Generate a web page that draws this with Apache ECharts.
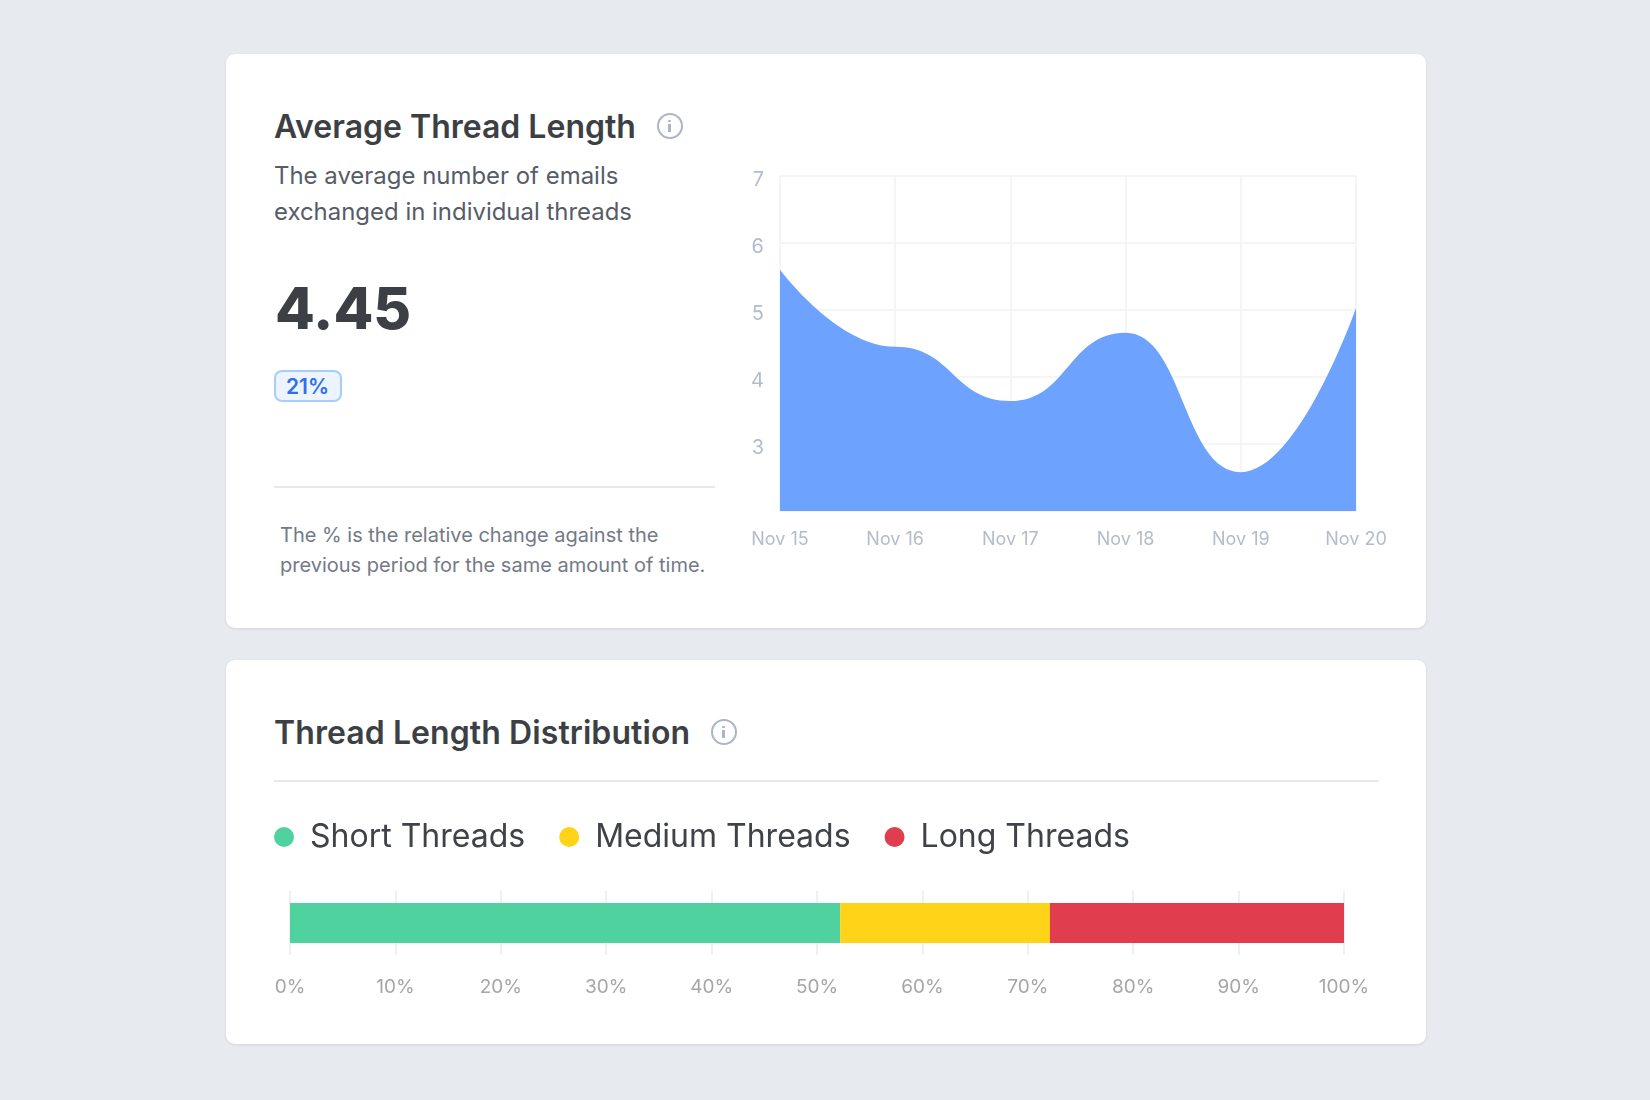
<!DOCTYPE html>
<html><head><meta charset="utf-8">
<script src="https://cdn.jsdelivr.net/npm/echarts@6/dist/echarts.min.js"></script>
<style>
html,body{margin:0;padding:0;width:1650px;height:1100px;background:#e7eaef;overflow:hidden;font-family:Inter,sans-serif}
.card{position:absolute;left:226px;width:1200px;background:#fff;border-radius:9px;box-shadow:0 1px 3px rgba(40,50,70,.1)}
.t{position:absolute;white-space:nowrap;line-height:1}
.title{font-size:32px;font-weight:600;color:#3c3f44;left:274px}
.line{position:absolute;height:2px;background:#e6e8eb}
.info{position:absolute;width:22px;height:22px;border:2.5px solid #aab5c6;border-radius:50%}
.info:before{content:"";position:absolute;left:9.75px;top:5px;width:2.5px;height:2.5px;background:#aab5c6;border-radius:50%}
.info:after{content:"";position:absolute;left:9.75px;top:9px;width:2.5px;height:8px;background:#aab5c6}
#chart{position:absolute;left:0;top:0;width:1650px;height:1100px}
</style></head><body>
<div class="card" style="top:54px;height:574px"></div>
<div class="card" style="top:660px;height:384px"></div>
<div class="t title" style="top:111px">Average Thread Length</div>
<div class="info" style="left:656.5px;top:112.5px"></div>
<div class="t" style="left:274px;top:164px;font-size:23.95px;color:#565c68">The average number of emails</div>
<div class="t" style="left:274px;top:200px;font-size:23.95px;color:#565c68">exchanged in individual threads</div>
<div class="t" style="left:275px;top:278.5px;font-size:58px;font-weight:800;color:#3c3f44">4.45</div>
<div style="position:absolute;left:274px;top:370px;width:64px;height:28px;border:2px solid #a8cdfd;border-radius:8px;background:#ebf4ff;color:#2f6fed;font-size:21px;font-weight:600;line-height:30px;text-align:center;text-indent:-1px">21%</div>
<div class="line" style="left:273.5px;top:486px;width:441.5px"></div>
<div class="t" style="left:280px;top:525px;font-size:20px;color:#737a87">The % is the relative change against the</div>
<div class="t" style="left:280px;top:555px;font-size:20px;color:#737a87">previous period for the same amount of time.</div>
<div class="t title" style="top:716.5px;letter-spacing:.08px">Thread Length Distribution</div>
<div class="info" style="left:710.5px;top:718.5px"></div>
<div class="line" style="left:273.5px;top:779.5px;width:1105px"></div>
<div id="chart"></div>
<script>
const days = ['Nov 15','Nov 16','Nov 17','Nov 18','Nov 19','Nov 20'];
const threadLength = [5.6,4.45,3.64,4.66,2.58,5.03];
const barCategory = ['Threads'];
const shortThreads = [52.2];
const mediumThreads = [19.9];
const longThreads = [27.9];
const chart = echarts.init(document.getElementById('chart'), null, {width:1650,height:1100});
const ff = 'Inter';
const bar = (name,data,color)=>({name,type:'bar',stack:'d',xAxisIndex:1,yAxisIndex:1,barWidth:40,data,itemStyle:{color},emphasis:{disabled:true}});
chart.setOption({
  animation:false,
  backgroundColor:'transparent',
  textStyle:{fontFamily:ff},
  legend:{show:true,left:269,top:816,itemWidth:20,itemHeight:20,itemGap:34,icon:'circle',
    data:['Short Threads','Medium Threads','Long Threads'],
    textStyle:{fontFamily:ff,fontSize:32,color:'#3f4247',padding:[0,0,0,11]}},
  grid:[
    {left:780,top:176,width:576,height:335,containLabel:false},
    {left:290,top:891,width:1054,height:64,containLabel:false}
  ],
  xAxis:[
    {type:'category',gridIndex:0,boundaryGap:false,data:days,
      axisLine:{show:false},axisTick:{show:false},
      axisLabel:{interval:0,hideOverlap:false,margin:20,fontFamily:ff,fontSize:18,color:'#b4bbca'},
      splitLine:{show:true,interval:0,lineStyle:{color:'#f4f5f7',width:2}}},
    {type:'value',gridIndex:1,min:0,max:100,interval:10,
      axisLine:{show:false},axisTick:{show:false},
      axisLabel:{margin:23,fontFamily:ff,fontSize:19,color:'#a6a6a6',formatter:'{value}%'},
      splitLine:{show:true,lineStyle:{color:'#f0f0f0',width:2}}}
  ],
  yAxis:[
    {type:'value',gridIndex:0,min:2,max:7,interval:1,
      axisLine:{show:false},axisTick:{show:false},
      axisLabel:{margin:16,fontFamily:ff,fontSize:20,color:'#b4bbca',verticalAlign:'top',lineHeight:7,
        formatter:v=>v===2?'':String(v)},
      splitLine:{show:true,lineStyle:{color:'#f4f5f7',width:2}}},
    {type:'category',gridIndex:1,data:barCategory,
      axisLine:{show:false},axisTick:{show:false},axisLabel:{show:false},splitLine:{show:false}}
  ],
  series:[
    {name:'Average Thread Length',type:'line',xAxisIndex:0,yAxisIndex:0,data:threadLength,
      smooth:0.5,smoothMonotone:'x',showSymbol:false,lineStyle:{width:0},
      areaStyle:{color:'#6ba0ff',opacity:0.98},emphasis:{disabled:true}},
    bar('Short Threads',shortThreads,'#50d2a0'),
    bar('Medium Threads',mediumThreads,'#ffd318'),
    bar('Long Threads',longThreads,'#e03d4f')
  ]
});
</script>
</body></html>
